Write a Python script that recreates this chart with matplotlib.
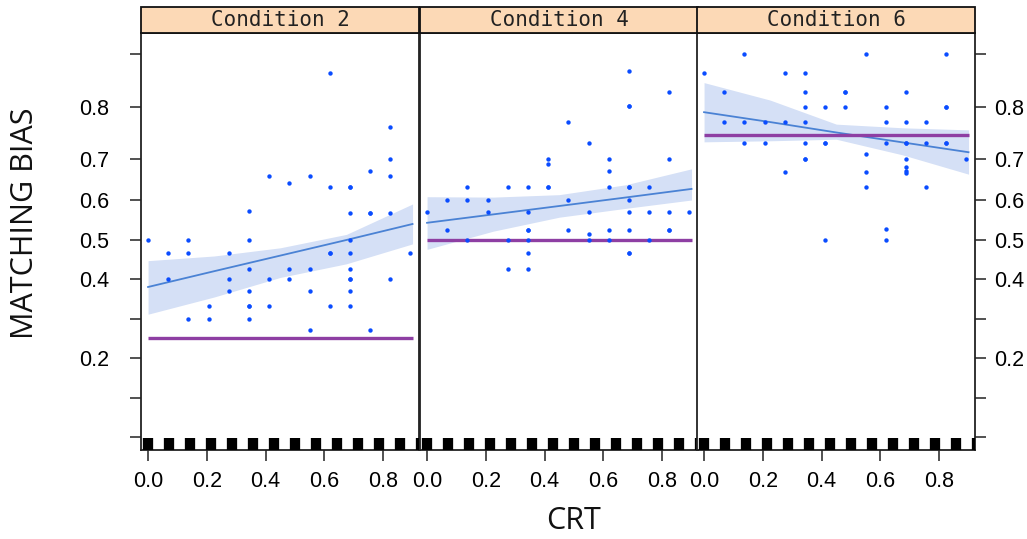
import numpy as np
import matplotlib
matplotlib.use("Agg")
import matplotlib.pyplot as plt
from matplotlib.patches import Rectangle

# x positions of the CRT levels where points sit
crt_levels = [0.0, 0.069, 0.137, 0.206, 0.275, 0.344, 0.412, 0.481,
              0.550, 0.618, 0.687, 0.756, 0.824, 0.893]
# rug marks along the bottom
rug_x = [0.0, 0.071, 0.143, 0.214, 0.286, 0.357, 0.429, 0.5,
         0.571, 0.643, 0.714, 0.786, 0.857, 0.929]

conditions = ["Condition 2", "Condition 4", "Condition 6"]

# observed points: index into crt_levels, matching bias
c2_idx = [9, 12, 12, 6, 8, 11, 12, 7, 9, 10, 10,
          5, 10, 11, 11, 12, 0, 2, 5, 10,
          1, 2, 4, 9, 9, 10, 13, 5, 7, 8, 10,
          1, 4, 6, 7, 10, 10, 12, 4, 5, 8, 10,
          3, 5, 5, 6, 9, 10, 2, 3, 5, 8, 11]
c2_bias = [0.865, 0.762, 0.70, 0.659, 0.659, 0.670, 0.659, 0.641, 0.632, 0.632, 0.632,
           0.572, 0.568, 0.568, 0.568, 0.568, 0.50, 0.50, 0.50, 0.50,
           0.467, 0.467, 0.467, 0.467, 0.467, 0.467, 0.467, 0.426, 0.426, 0.426, 0.426,
           0.40, 0.40, 0.40, 0.40, 0.40, 0.40, 0.40, 0.370, 0.370, 0.370, 0.370,
           0.333, 0.333, 0.333, 0.333, 0.333, 0.333, 0.30, 0.30, 0.30, 0.273, 0.273]

c4_idx = [10, 12, 10, 10, 7, 8, 6, 6, 9, 9, 12,
          2, 4, 5, 6, 6, 9, 10, 10, 11,
          1, 2, 3, 7, 10,
          0, 3, 5, 8, 10, 11, 12, 13,
          1, 5, 5, 7, 8, 9, 10, 12, 12,
          2, 4, 5, 8, 9, 11,
          5, 10, 10, 4, 5]
c4_bias = [0.867, 0.828, 0.802, 0.802, 0.771, 0.731, 0.70, 0.688, 0.70, 0.671, 0.70,
           0.632, 0.632, 0.632, 0.632, 0.632, 0.632, 0.632, 0.632, 0.632,
           0.60, 0.60, 0.60, 0.60, 0.60,
           0.57, 0.57, 0.57, 0.57, 0.57, 0.57, 0.57, 0.57,
           0.525, 0.525, 0.525, 0.525, 0.514, 0.525, 0.525, 0.525, 0.525,
           0.50, 0.50, 0.50, 0.50, 0.50, 0.50,
           0.466, 0.466, 0.466, 0.426, 0.426]

c6_idx = [2, 8, 12, 0, 4, 5,
          1, 5, 7, 7, 10,
          5, 6, 7, 9, 12, 12,
          1, 2, 3, 4, 5, 9, 10, 11,
          2, 3, 5, 6, 6, 9, 10, 10, 11, 12, 12,
          8, 5, 5, 10, 13, 10, 10, 10,
          4, 8, 8, 11, 9, 9, 6]
c6_bias = [0.90, 0.90, 0.90, 0.865, 0.865, 0.865,
           0.828, 0.828, 0.829, 0.829, 0.828,
           0.80, 0.80, 0.80, 0.80, 0.80, 0.80,
           0.771, 0.771, 0.771, 0.771, 0.771, 0.771, 0.771, 0.771,
           0.73, 0.73, 0.73, 0.73, 0.73, 0.73, 0.73, 0.73, 0.73, 0.73, 0.73,
           0.71, 0.70, 0.70, 0.70, 0.70, 0.681, 0.671, 0.667,
           0.669, 0.669, 0.632, 0.632, 0.527, 0.50, 0.50]

# fitted effect with confidence band, read at a few CRT values
fit_x = [0.0, 0.225, 0.45, 0.675, 0.9]
c2_fit = [0.380, 0.420, 0.460, 0.500, 0.540]
c2_lo = [0.312, 0.355, 0.404, 0.439, 0.490]
c2_hi = [0.447, 0.459, 0.480, 0.514, 0.590]
c4_fit = [0.543, 0.564, 0.585, 0.606, 0.627]
c4_lo = [0.476, 0.522, 0.557, 0.579, 0.600]
c4_hi = [0.608, 0.607, 0.613, 0.637, 0.676]
c6_fit = [0.790, 0.771, 0.751, 0.732, 0.713]
c6_lo = [0.733, 0.735, 0.738, 0.708, 0.663]
c6_hi = [0.846, 0.813, 0.767, 0.760, 0.756]

# reference levels (purple lines)
ref_level = [0.25, 0.50, 0.746]

y_ticks = [0.0, 0.1, 0.2, 0.3, 0.4, 0.5, 0.6, 0.7, 0.8, 0.9]
y_labels = ["", "", "0.2", "", "0.4", "0.5", "0.6", "0.7", "0.8", ""]
x_ticks = [0.0, 0.2, 0.4, 0.6, 0.8]
x_labels = ["0.0", "0.2", "0.4", "0.6", "0.8"]

# uneven vertical axis of the original figure
scale_vals = np.array([-0.1, 0.0, 0.1, 0.2, 0.3, 0.4, 0.5, 0.6, 0.7, 0.8, 0.9, 1.0])
scale_pos = np.array([-39.4, 0, 39, 79, 118, 158, 197, 237, 278, 330, 383, 436])


def to_pos(v):
    return np.interp(v, scale_vals, scale_pos)


def to_val(p):
    return np.interp(p, scale_pos, scale_vals)


points = [(c2_idx, c2_bias), (c4_idx, c4_bias), (c6_idx, c6_bias)]
fits = [(c2_fit, c2_lo, c2_hi), (c4_fit, c4_lo, c4_hi), (c6_fit, c6_lo, c6_hi)]

W, H = 1027, 539
fig = plt.figure(figsize=(W / 100, H / 100), dpi=100)

lefts = [141, 420, 697]
pw = 278
top_px, bot_px = 33, 450
ph = bot_px - top_px
strip_h = 26 / ph

tick_font = dict(family="Liberation Sans", size=15.5)

for i, ax_left in enumerate(lefts):
    ax = fig.add_axes([ax_left / W, 1 - bot_px / H, pw / W, ph / H])
    ax.set_yscale("function", functions=(to_pos, to_val))
    ax.set_xlim(-0.024, 0.922)
    ax.set_ylim(-0.033, 0.9396)

    fit, lo, hi = fits[i]
    ax.fill_between(fit_x, lo, hi, color="#d5e0f6", lw=0, zorder=1)
    ax.plot(fit_x, fit, color="#4a82d4", lw=1.3, zorder=2)
    ax.plot([fit_x[0], fit_x[-1]], [ref_level[i], ref_level[i]],
            color="#8e3fa3", lw=2.4, zorder=2, solid_capstyle="butt")

    idx, bias = points[i]
    xs = [crt_levels[k] for k in idx]
    ax.scatter(xs, bias, s=10, color="#0a4cff", linewidths=0, zorder=3)

    ax.vlines(rug_x, 0, 12 / ph, transform=ax.get_xaxis_transform(),
              color="black", lw=7.4, zorder=4)

    for sp in ax.spines.values():
        sp.set_linewidth(1.3)
        sp.set_color("#222222")

    ax.set_xticks(x_ticks)
    ax.set_xticklabels(x_labels, **tick_font)
    ax.tick_params(axis="x", direction="out", length=8, width=1.2,
                   color="#333333", pad=7)

    ax.set_yticks(y_ticks)
    ax.minorticks_off()
    if i == 0:
        ax.set_yticklabels(y_labels, **tick_font)
        ax.tick_params(axis="y", direction="out", length=8, width=1.2,
                       color="#333333", pad=15, left=True, right=False)
    elif i == 2:
        ax.yaxis.tick_right()
        ax.set_yticklabels(y_labels, **tick_font)
        ax.tick_params(axis="y", direction="out", length=8, width=1.2,
                       color="#333333", pad=6)
    else:
        ax.tick_params(axis="y", left=False, right=False, labelleft=False)

    strip = Rectangle((0, 1), 1, strip_h, transform=ax.transAxes,
                      facecolor="#fcd9b6", edgecolor="#111111", lw=1.3,
                      clip_on=False, zorder=5)
    ax.add_patch(strip)
    ax.text(0.5, 1 + strip_h / 2, conditions[i], transform=ax.transAxes,
            ha="center", va="center", family="DejaVu Sans Mono", size=15,
            color="#222222", zorder=6)

fig.text(25 / W, 1 - 223 / H, "MATCHING BIAS", rotation=90, ha="center",
         va="center", family="Open Sans", size=22, color="#111111")
fig.text(574 / W, 1 - 521 / H, "CRT", ha="center", va="center",
         family="Open Sans", size=22, color="#111111")

fig.savefig("out.png", dpi=100)
